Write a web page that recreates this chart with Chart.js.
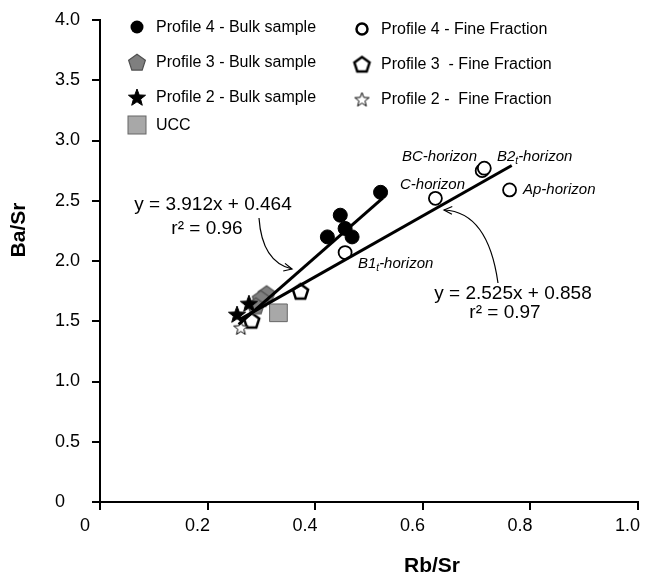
<!DOCTYPE html>
<html>
<head>
<meta charset="utf-8">
<script src="https://cdn.jsdelivr.net/npm/chart.js@4.4.1/dist/chart.umd.min.js"></script>
<style>
  body { margin: 0; background: #fff; }
</style>
</head>
<body>
<canvas id="myChart" width="651" height="579"></canvas>
<script>
// values (Rb/Sr, Ba/Sr)
const p4BulkX = [0.522, 0.447, 0.456, 0.423, 0.469];
const p4BulkY = [2.57, 2.38, 2.27, 2.20, 2.20];
const p4FineX = [0.456, 0.624, 0.711, 0.715, 0.762];
const p4FineY = [2.07, 2.52, 2.75, 2.77, 2.59];
const p3BulkX = [0.310, 0.299, 0.290];
const p3BulkY = [1.73, 1.69, 1.63];
const p3FineX = [0.373, 0.282];
const p3FineY = [1.75, 1.51];
const p2BulkX = [0.277, 0.255];
const p2BulkY = [1.65, 1.56];
const p2FineX = [0.262];
const p2FineY = [1.45];
const uccX = [0.332];
const uccY = [1.57];

// regression fits
const fit1 = { slope: 3.912, icpt: 0.464, from: 0.258, to: 0.526 };
const fit2 = { slope: 2.525, icpt: 0.858, from: 0.262, to: 0.766 };

const xTicks = [0, 0.2, 0.4, 0.6, 0.8, 1.0];
const yTicks = [0, 0.5, 1.0, 1.5, 2.0, 2.5, 3.0, 3.5, 4.0];

const FONT = '"Liberation Sans", Arial, sans-serif';

function pts(xs, ys) { return xs.map((x, i) => ({ x: x, y: ys[i] })); }
function linePts(f) {
  return [{ x: f.from, y: f.slope * f.from + f.icpt }, { x: f.to, y: f.slope * f.to + f.icpt }];
}

// marker images: pentagon and 5-point star
function polyImg(size, kind, fill, stroke, lw) {
  const c = document.createElement('canvas');
  c.width = size; c.height = size;
  const g = c.getContext('2d');
  const cx = size / 2, cy = size / 2 + 1;
  const R = size / 2 - lw;
  g.beginPath();
  if (kind === 'pent') {
    for (let i = 0; i < 5; i++) {
      const a = -Math.PI / 2 + i * 2 * Math.PI / 5;
      const px = cx + R * Math.cos(a), py = cy + R * Math.sin(a);
      i ? g.lineTo(px, py) : g.moveTo(px, py);
    }
  } else {
    for (let i = 0; i < 10; i++) {
      const a = -Math.PI / 2 + i * Math.PI / 5;
      const r = i % 2 ? R * 0.42 : R;
      const px = cx + r * Math.cos(a), py = cy + r * Math.sin(a);
      i ? g.lineTo(px, py) : g.moveTo(px, py);
    }
  }
  g.closePath();
  g.fillStyle = fill; g.fill();
  g.lineJoin = 'miter';
  g.lineWidth = lw; g.strokeStyle = stroke; g.stroke();
  return c;
}

const pentGrey = polyImg(20, 'pent', '#7f7f7f', '#505050', 1.2);
const pentOpen = polyImg(21, 'pent', '#fff', '#000', 2.5);
const starBlack = polyImg(20, 'star', '#000', '#000', 1);
const starOpen = polyImg(17, 'star', '#fff', '#000', 1);

const legendItems = [
  { col: 0, y: 27, text: 'Profile 4 - Bulk sample', m: 'dot' },
  { col: 0, y: 62, text: 'Profile 3 - Bulk sample', m: pentGrey },
  { col: 0, y: 97, text: 'Profile 2 - Bulk sample', m: starBlack },
  { col: 0, y: 125, text: 'UCC', m: 'sq' },
  { col: 1, y: 29, text: 'Profile 4 - Fine Fraction', m: 'ring' },
  { col: 1, y: 64, text: 'Profile 3  - Fine Fraction', m: pentOpen },
  { col: 1, y: 99, text: 'Profile 2 -  Fine Fraction', m: starOpen }
];

const decor = {
  id: 'decor',
  afterDraw(chart) {
    const ctx = chart.ctx;
    ctx.save();
    ctx.fillStyle = '#000';
    ctx.strokeStyle = '#000';

    // legend
    const colX = [137, 362];
    ctx.font = '16px ' + FONT;
    ctx.textBaseline = 'middle';
    ctx.textAlign = 'left';
    legendItems.forEach(it => {
      const mx = colX[it.col];
      if (it.m === 'dot') {
        ctx.beginPath(); ctx.arc(mx, it.y, 6.5, 0, 2 * Math.PI); ctx.fill();
      } else if (it.m === 'ring') {
        ctx.beginPath(); ctx.arc(mx, it.y, 5.5, 0, 2 * Math.PI);
        ctx.lineWidth = 2.5; ctx.stroke();
      } else if (it.m === 'sq') {
        ctx.fillStyle = '#a8a8a8'; ctx.fillRect(mx - 9, it.y - 9, 18, 18);
        ctx.lineWidth = 1; ctx.strokeStyle = '#666'; ctx.strokeRect(mx - 9, it.y - 9, 18, 18);
        ctx.fillStyle = '#000'; ctx.strokeStyle = '#000';
      } else {
        ctx.drawImage(it.m, mx - it.m.width / 2, it.y - it.m.height / 2);
      }
      ctx.fillText(it.text, mx + 19, it.y + 1);
    });

    // horizon labels
    function sub(parts, x, y) {
      let cx = x;
      parts.forEach(p => {
        ctx.font = (p.s ? 'italic 10px ' : 'italic 15px ') + FONT;
        ctx.fillText(p.t, cx, y + (p.s ? 4 : 0));
        cx += ctx.measureText(p.t).width;
      });
    }
    sub([{ t: 'BC-horizon' }], 402, 157);
    sub([{ t: 'B2' }, { t: 't', s: 1 }, { t: '-horizon' }], 497, 157);
    sub([{ t: 'C-horizon' }], 400, 185);
    sub([{ t: 'Ap-horizon' }], 523, 190);
    sub([{ t: 'B1' }, { t: 't', s: 1 }, { t: '-horizon' }], 358, 264);

    // equations
    ctx.font = '19px ' + FONT;
    ctx.textAlign = 'center';
    ctx.fillText('y = 3.912x + 0.464', 213, 205);
    ctx.fillText('r\u00b2 = 0.96', 207, 229);
    ctx.fillText('y = 2.525x + 0.858', 513, 294);
    ctx.fillText('r\u00b2 = 0.97', 505, 313);

    // curved arrows
    function arrow(x0, y0, cx1, cy1, x1, y1) {
      ctx.lineWidth = 1.2;
      ctx.beginPath(); ctx.moveTo(x0, y0); ctx.quadraticCurveTo(cx1, cy1, x1, y1); ctx.stroke();
      const a = Math.atan2(y1 - cy1, x1 - cx1);
      ctx.beginPath();
      ctx.moveTo(x1 - 9 * Math.cos(a - 0.45), y1 - 9 * Math.sin(a - 0.45));
      ctx.lineTo(x1, y1);
      ctx.lineTo(x1 - 9 * Math.cos(a + 0.45), y1 - 9 * Math.sin(a + 0.45));
      ctx.stroke();
    }
    arrow(259, 218, 262, 262, 292, 269);
    arrow(498, 283, 488, 212, 444, 210);

    // axis titles
    ctx.font = 'bold 21px ' + FONT;
    ctx.fillText('Rb/Sr', 432, 566);
    ctx.translate(19, 230);
    ctx.rotate(-Math.PI / 2);
    ctx.fillText('Ba/Sr', 0, 0);
    ctx.restore();
  }
};

const tickLabel = v => (v === 0 ? '0' : v.toFixed(1));

new Chart(document.getElementById('myChart'), {
  type: 'scatter',
  data: {
    datasets: [
      { type: 'line', label: 'fit1', data: linePts(fit1), borderColor: '#000', borderWidth: 3, pointRadius: 0, fill: false },
      { type: 'line', label: 'fit2', data: linePts(fit2), borderColor: '#000', borderWidth: 3, pointRadius: 0, fill: false },
      { label: 'Profile 4 - Bulk sample', data: pts(p4BulkX, p4BulkY), pointStyle: 'circle', pointRadius: 7, backgroundColor: '#000', borderColor: '#000' },
      { label: 'Profile 4 - Fine Fraction', data: pts(p4FineX, p4FineY), pointStyle: 'circle', pointRadius: 6.5, backgroundColor: '#fff', borderColor: '#000', borderWidth: 1.8 },
      { label: 'Profile 2 - Fine Fraction', data: pts(p2FineX, p2FineY), pointStyle: starOpen },
      { label: 'Profile 2 - Bulk sample', data: pts(p2BulkX, p2BulkY), pointStyle: starBlack },
      { label: 'Profile 3 - Bulk sample', data: pts(p3BulkX, p3BulkY), pointStyle: pentGrey },
      { label: 'Profile 3 - Fine Fraction', data: pts(p3FineX, p3FineY), pointStyle: pentOpen },
      { label: 'UCC', data: pts(uccX, uccY), pointStyle: 'rect', pointRadius: 12.5, backgroundColor: '#a8a8a8', borderColor: '#666', borderWidth: 1 }
    ]
  },
  options: {
    responsive: false,
    animation: false,
    layout: { padding: { left: 0, top: 20, right: 9, bottom: 0 } },
    plugins: { legend: { display: false }, tooltip: { enabled: false } },
    scales: {
      x: {
        type: 'linear', min: 0, max: 1,
        afterBuildTicks: s => { s.ticks = xTicks.map(v => ({ value: v })); },
        afterFit: s => { s.height = 77; s.paddingLeft = 0; s.paddingRight = 0; },
        ticks: {
          callback: v => (v === 0 ? '0  ' : tickLabel(v)),
          color: '#000', font: { size: 18, family: FONT }, padding: 5, labelOffset: -10, maxRotation: 0
        },
        grid: { drawOnChartArea: false, tickLength: 8, color: '#000', lineWidth: 2 },
        border: { color: '#000', width: 2 }
      },
      y: {
        type: 'linear', min: 0, max: 4,
        afterBuildTicks: s => { s.ticks = yTicks.map(v => ({ value: v })); },
        afterFit: s => { s.width = 100; s.paddingTop = 0; s.paddingBottom = 0; },
        ticks: {
          callback: v => (v === 0 ? '0   ' : tickLabel(v)),
          color: '#000', font: { size: 18, family: FONT }, padding: 12
        },
        grid: { drawOnChartArea: false, tickLength: 8, color: '#000', lineWidth: 2 },
        border: { color: '#000', width: 2 }
      }
    }
  },
  plugins: [decor]
});
</script>
</body>
</html>
